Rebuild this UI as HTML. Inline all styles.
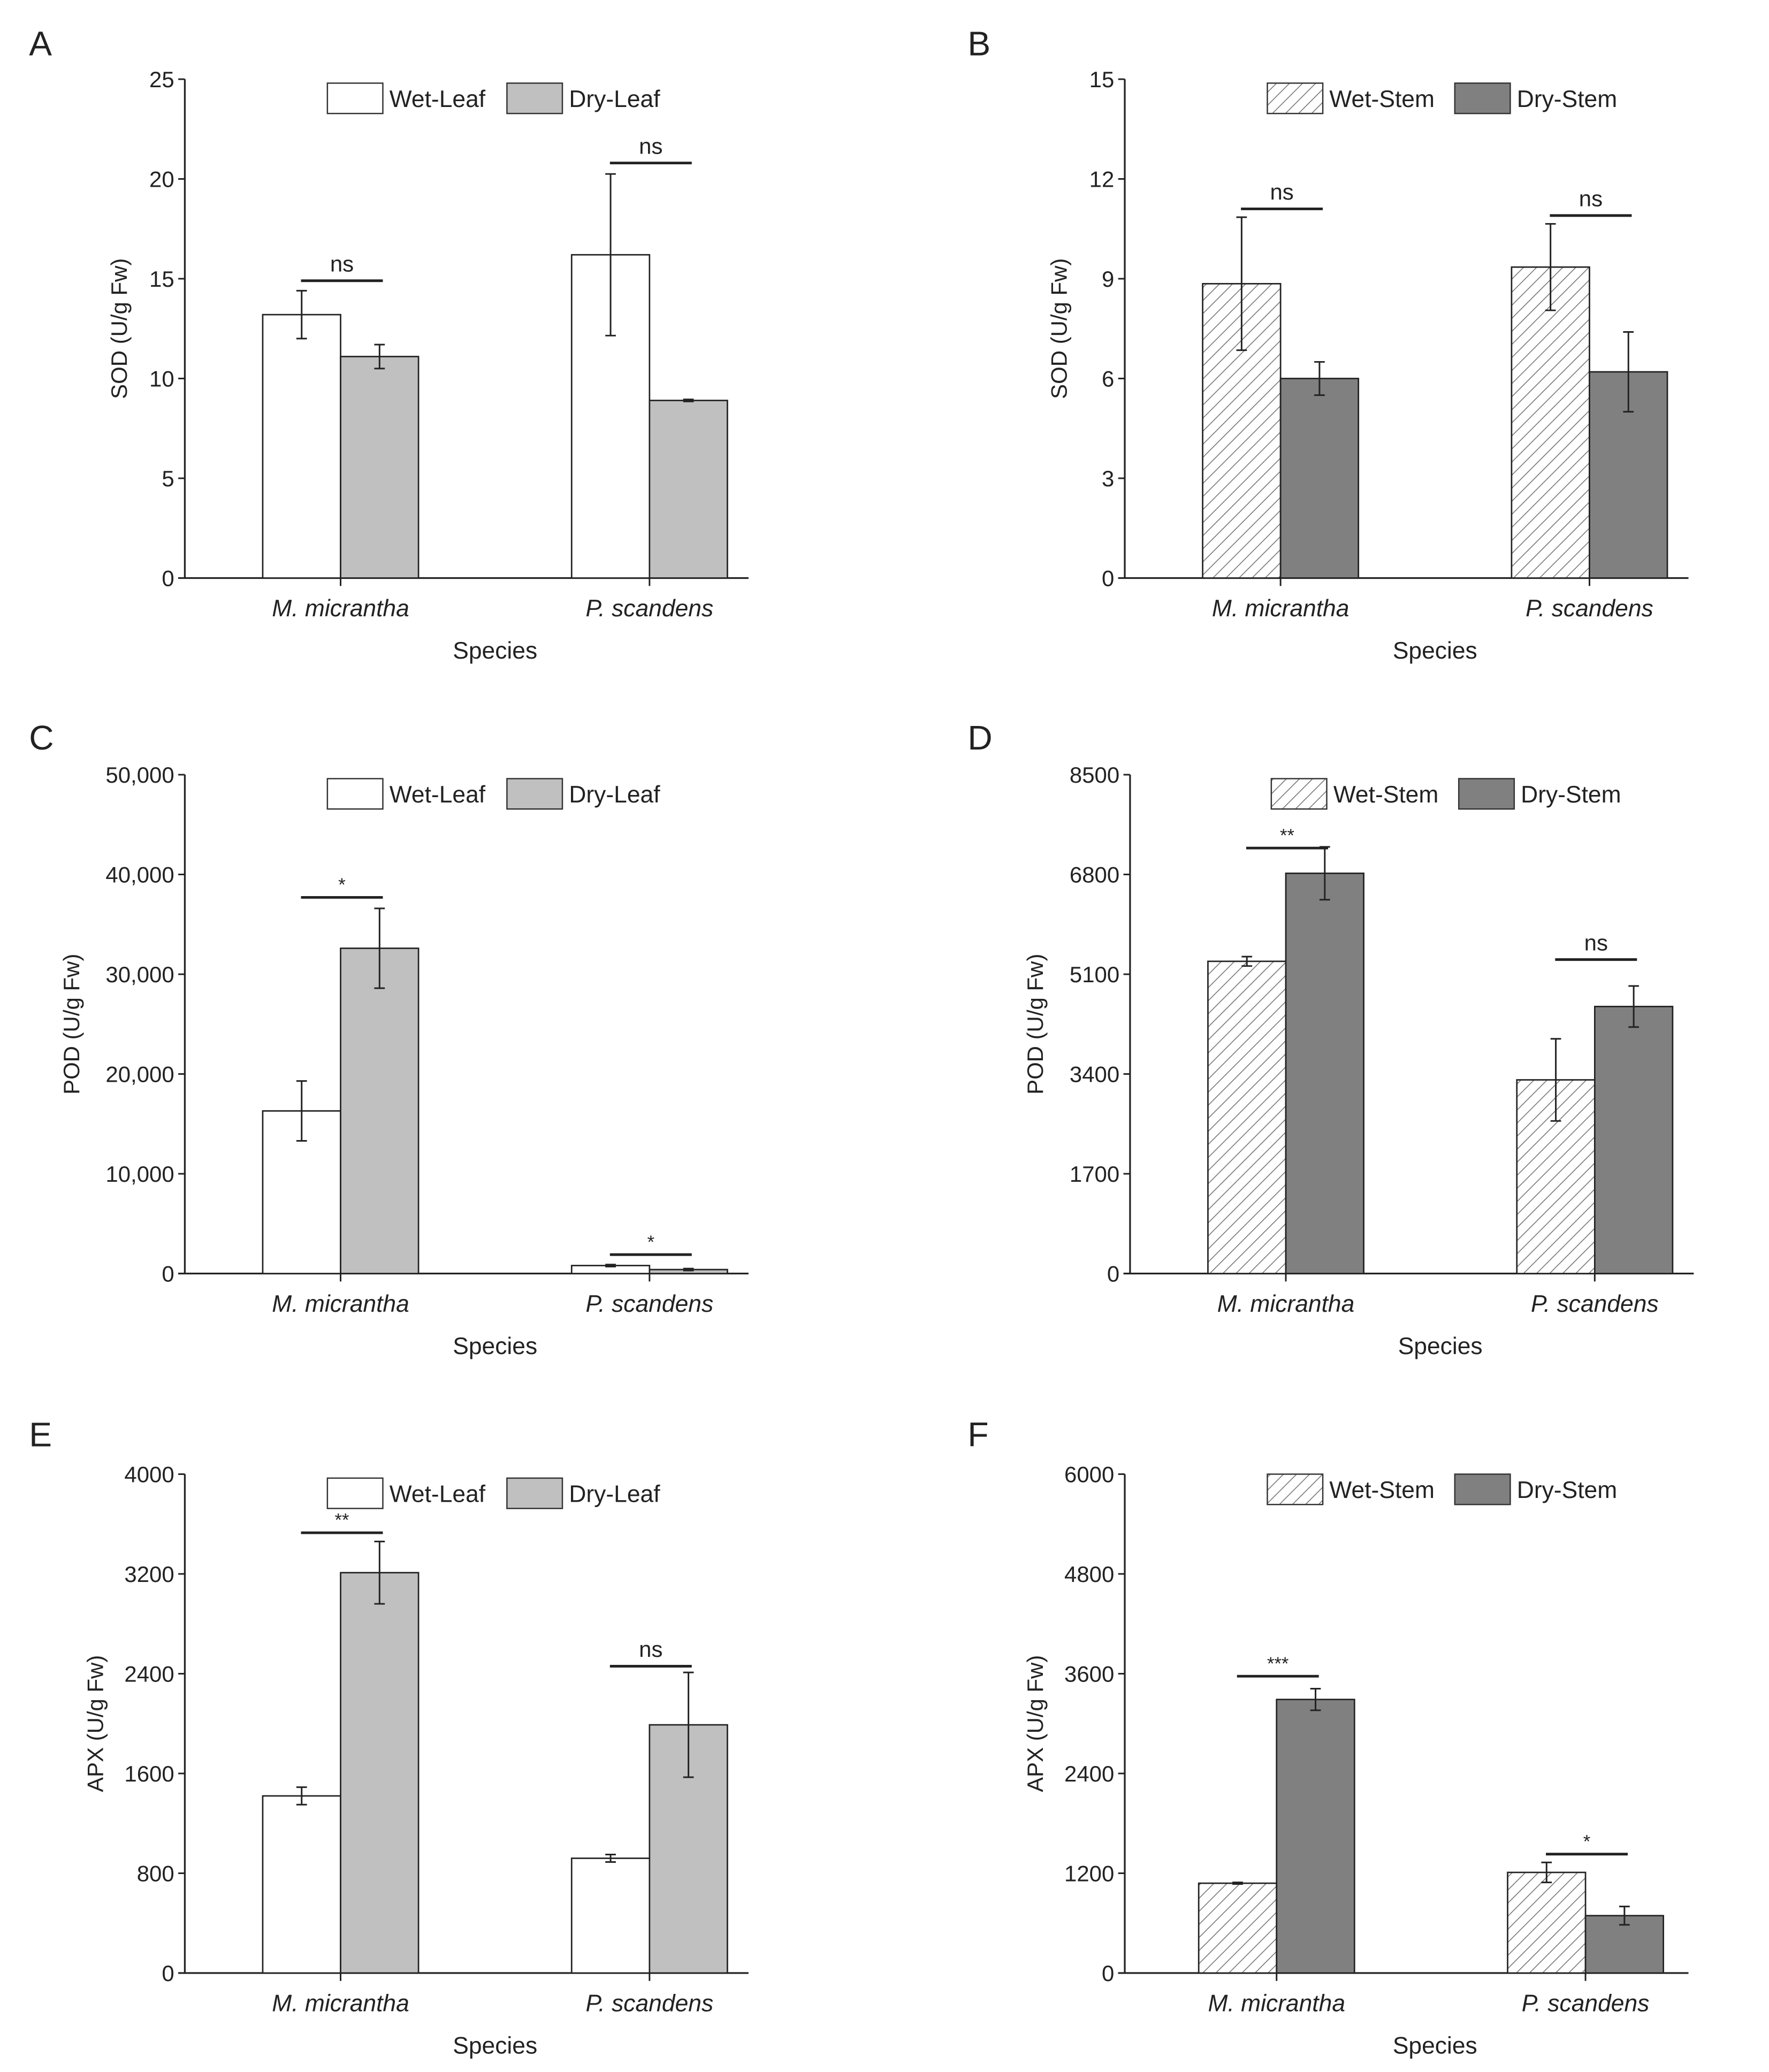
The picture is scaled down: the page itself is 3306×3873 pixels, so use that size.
<!DOCTYPE html>
<html><head><meta charset="utf-8"><style>
html,body{margin:0;padding:0;background:#fff;}
svg{display:block;}
text{font-family:"Liberation Sans",Arial,sans-serif;fill:#222;}
</style></head><body>
<svg id="fig" width="3306" height="3873" viewBox="0 0 1340 1570" preserveAspectRatio="none" xmlns="http://www.w3.org/2000/svg">
<defs>
<pattern id="hatch" patternUnits="userSpaceOnUse" width="7" height="7" patternTransform="rotate(45)">
<rect width="7" height="7" fill="#fff"/>
<line x1="0" y1="0" x2="0" y2="7" stroke="#777" stroke-width="1.3"/>
</pattern>
</defs>
</svg>
<script>
const categories = ["M. micrantha", "P. scandens"];
const sodLeafWet = [13.2, 16.2], sodLeafWetErr = [1.2, 4.05];
const sodLeafDry = [11.1, 8.9], sodLeafDryErr = [0.6, 0.05];
const sodStemWet = [8.85, 9.35], sodStemWetErr = [2.0, 1.3];
const sodStemDry = [6.0, 6.2], sodStemDryErr = [0.5, 1.2];
const podLeafWet = [16300, 800], podLeafWetErr = [3000, 100];
const podLeafDry = [32600, 400], podLeafDryErr = [4000, 100];
const podStemWet = [5320, 3300], podStemWetErr = [80, 700];
const podStemDry = [6820, 4550], podStemDryErr = [450, 350];
const apxLeafWet = [1420, 920], apxLeafWetErr = [70, 30];
const apxLeafDry = [3210, 1990], apxLeafDryErr = [250, 420];
const apxStemWet = [1080, 1210], apxStemWetErr = [10, 120];
const apxStemDry = [3290, 690], apxStemDryErr = [130, 110];
const ticksA = [0,5,10,15,20,25];
const ticksB = [0,3,6,9,12,15];
const ticksC = [0,10000,20000,30000,40000,50000];
const ticksD = [0,1700,3400,5100,6800,8500];
const ticksE = [0,800,1600,2400,3200,4000];
const ticksF = [0,1200,2400,3600,4800,6000];
const tickLabelsC = ["0","10,000","20,000","30,000","40,000","50,000"];
const sigA = [14.9, 20.8], sigLabA = ["ns","ns"];
const sigB = [11.1, 10.9], sigLabB = ["ns","ns"];
const sigC = [37700, 1900], sigLabC = ["*","*"];
const sigD = [7250, 5350], sigLabD = ["**","ns"];
const sigE = [3530, 2460], sigLabE = ["**","ns"];
const sigF = [3570, 1430], sigLabF = ["***","*"];

const svg = document.getElementById('fig');
const NS = "http://www.w3.org/2000/svg";
function mk(tag, attrs, parent, txt){
  const e=document.createElementNS(NS,tag);
  for(const k in attrs) e.setAttribute(k,attrs[k]);
  if(txt!==undefined) e.textContent=txt;
  (parent||svg).appendChild(e); return e;
}
function panel(o){
  const g=mk('g',{});
  
  
  const ax=o.ax, top=o.top, zero=o.zero, xend=ax+427, max=o.ticks[o.ticks.length-1];
  const y=v=>zero-(v/max)*(zero-top);
  const cx=[ax+118+o.dx, ax+352+o.dx];
  const bw=59;
  const L=mk('text',{x:o.lx,y:o.ly,'font-size':26},g,o.letter);
  
  
  const ya=mk('line',{x1:ax,y1:top,x2:ax,y2:zero,stroke:'#222','stroke-width':1.3},g);
  
  
  const xa=mk('line',{x1:ax-5,y1:zero,x2:xend,y2:zero,stroke:'#222','stroke-width':1.3},g);
  
  
  o.ticks.forEach((t,i)=>{
    mk('line',{x1:ax-5,y1:y(t),x2:ax,y2:y(t),stroke:'#222','stroke-width':1.2},g);
    const tl=mk('text',{x:ax-8,y:y(t)+6,'font-size':17,'text-anchor':'end'},g,o.tickLabels?o.tickLabels[i]:String(t));
    
    
  });
  const yt=mk('text',{x:0,y:0,'font-size':17,'text-anchor':'middle',transform:`translate(${o.ytx},${(top+zero)/2}) rotate(-90)`},g,o.ylab);
  
  
  const xt=mk('text',{x:ax+235,y:zero+61,'font-size':18,'text-anchor':'middle'},g,'Species');
  
  
  categories.forEach((c,i)=>{
    mk('line',{x1:cx[i],y1:zero,x2:cx[i],y2:zero+6,stroke:'#222','stroke-width':1.2},g);
    const cl=mk('text',{x:cx[i],y:zero+29,'font-size':18,'font-style':'italic','text-anchor':'middle'},g,c);
    
    
    const bars=[[o.wet,o.wetErr,o.wetFill,cx[i]-bw,'wet'],[o.dry,o.dryErr,o.dryFill,cx[i],'dry']];
    bars.forEach(b=>{
      const v=b[0][i], e=b[1][i];
      const r=mk('rect',{x:b[3],y:y(v),width:bw,height:zero-y(v),fill:b[2],stroke:'#222','stroke-width':1.1},g);
      
      
      const mx=b[3]+bw/2;
      const eb=mk('path',{d:`M${mx},${y(v+e)}V${y(v-e)}M${mx-4},${y(v+e)}H${mx+4}M${mx-4},${y(v-e)}H${mx+4}`,stroke:'#222','stroke-width':1.2,fill:'none'},g);
      
      
    });
    const sy=y(o.sig[i]);
    const sl=mk('line',{x1:cx[i]-30,y1:sy,x2:cx[i]+32,y2:sy,stroke:'#222','stroke-width':2},g);
    
    
    const st=mk('text',{x:cx[i]+1,y:sy-(o.sigLab[i]==='ns'?7:5),'font-size':o.sigLab[i]==='ns'?17:14,'text-anchor':'middle'},g,o.sigLab[i]);
    
    
  });
  const lx=o.legX, ly=top+3+o.legDy;
  const l1=mk('rect',{x:lx,y:ly,width:42,height:23,fill:o.wetFill,stroke:'#333','stroke-width':1},g);
  
  
  const t1=mk('text',{x:lx+47,y:ly+18,'font-size':18},g,o.legWet);
  
  
  const l2=mk('rect',{x:lx+o.legGap,y:ly,width:42,height:23,fill:o.dryFill,stroke:'#333','stroke-width':1},g);
  
  
  const t2=mk('text',{x:lx+o.legGap+47,y:ly+18,'font-size':18},g,o.legDry);
  
  
}
const leaf={wetFill:'#fff',dryFill:'#c0c0c0',legWet:'Wet-Leaf',legDry:'Dry-Leaf',legGap:136};
const stem={wetFill:'url(#hatch)',dryFill:'#808080',legWet:'Wet-Stem',legDry:'Dry-Stem',legGap:142};
panel(Object.assign({},leaf,{letter:'A',lx:22,ly:42,ax:140,top:60,zero:438,dx:0,ticks:ticksA,ylab:'SOD (U/g Fw)',ytx:96,wet:sodLeafWet,wetErr:sodLeafWetErr,dry:sodLeafDry,dryErr:sodLeafDryErr,sig:sigA,sigLab:sigLabA,legX:248,legDy:0}));
panel(Object.assign({},stem,{letter:'B',lx:733,ly:42,ax:852,top:60,zero:438,dx:0,ticks:ticksB,ylab:'SOD (U/g Fw)',ytx:808,wet:sodStemWet,wetErr:sodStemWetErr,dry:sodStemDry,dryErr:sodStemDryErr,sig:sigB,sigLab:sigLabB,legX:960,legDy:0}));
panel(Object.assign({},leaf,{letter:'C',lx:22,ly:568,ax:140,top:587,zero:965,dx:0,ticks:ticksC,tickLabels:tickLabelsC,ylab:'POD (U/g Fw)',ytx:60,wet:podLeafWet,wetErr:podLeafWetErr,dry:podLeafDry,dryErr:podLeafDryErr,sig:sigC,sigLab:sigLabC,legX:248,legDy:0}));
panel(Object.assign({},stem,{letter:'D',lx:733,ly:568,ax:856,top:587,zero:965,dx:0,ticks:ticksD,ylab:'POD (U/g Fw)',ytx:790,wet:podStemWet,wetErr:podStemWetErr,dry:podStemDry,dryErr:podStemDryErr,sig:sigD,sigLab:sigLabD,legX:963,legDy:0}));
panel(Object.assign({},leaf,{letter:'E',lx:22,ly:1096,ax:140,top:1117,zero:1495,dx:0,ticks:ticksE,ylab:'APX (U/g Fw)',ytx:78,wet:apxLeafWet,wetErr:apxLeafWetErr,dry:apxLeafDry,dryErr:apxLeafDryErr,sig:sigE,sigLab:sigLabE,legX:248,legDy:0}));
panel(Object.assign({},stem,{letter:'F',lx:733,ly:1096,ax:852,top:1117,zero:1495,dx:-3,ticks:ticksF,ylab:'APX (U/g Fw)',ytx:790,wet:apxStemWet,wetErr:apxStemWetErr,dry:apxStemDry,dryErr:apxStemDryErr,sig:sigF,sigLab:sigLabF,legX:960,legDy:-3}));
</script>
</body></html>
